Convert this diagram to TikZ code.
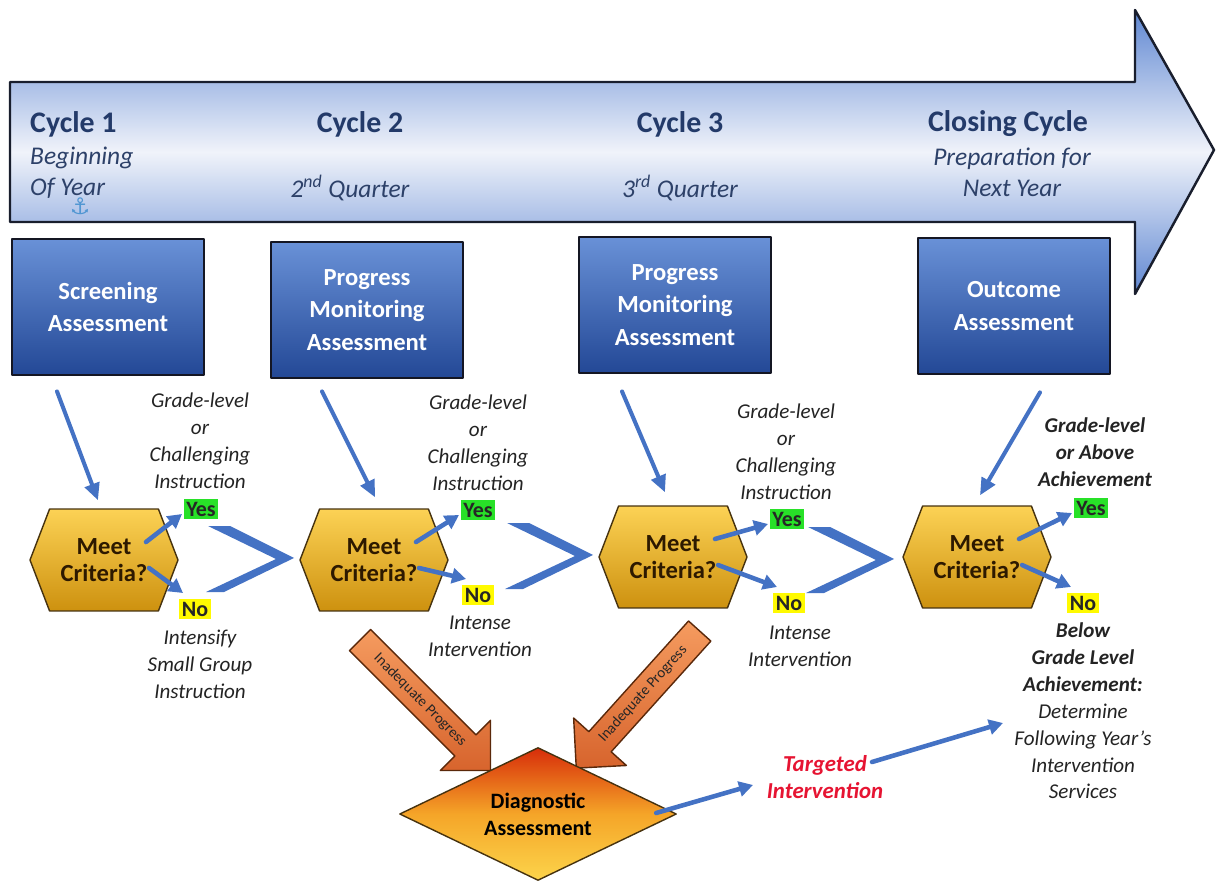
\documentclass[tikz,border=0pt]{standalone}
\usepackage{fontspec}
\setmainfont{Carlito}
\newfontfamily\symfont{DejaVu Sans}
\usetikzlibrary{arrows.meta,shapes.geometric,shapes.symbols,shapes.arrows}

\definecolor{flowblue}{RGB}{68,114,196}
\definecolor{bandtop}{RGB}{95,135,210}
\definecolor{bandmid}{RGB}{240,243,250}
\definecolor{bandedge}{RGB}{25,30,45}
\definecolor{cyctext}{RGB}{35,58,105}
\definecolor{whentext}{RGB}{45,65,105}
\definecolor{boxtop}{RGB}{105,145,215}
\definecolor{boxbot}{RGB}{35,72,150}
\definecolor{boxedge}{RGB}{20,22,35}
\definecolor{hextop}{RGB}{252,210,85}
\definecolor{hexbot}{RGB}{205,145,15}
\definecolor{hexedge}{RGB}{70,50,15}
\definecolor{hextext}{RGB}{45,25,0}
\definecolor{yesgreen}{RGB}{40,225,40}
\definecolor{noyellow}{RGB}{255,250,0}
\definecolor{notetext}{RGB}{35,35,35}
\definecolor{diagtop}{RGB}{215,45,10}
\definecolor{diagmid}{RGB}{245,165,40}
\definecolor{diagbot}{RGB}{252,212,75}
\definecolor{iptop}{RGB}{245,155,95}
\definecolor{ipbot}{RGB}{215,100,45}
\definecolor{ipedge}{RGB}{90,40,10}
\definecolor{targetred}{RGB}{230,20,50}
\definecolor{anchorblue}{RGB}{80,150,210}

\begin{document}
\begin{tikzpicture}[x=0.02cm, y=-0.02cm, line cap=round, line join=round]
  % ---- Styles ----
  \tikzset{
    flow/.style={-{Triangle[length=0.34cm,width=0.3cm]}, line width=2.3pt, flowblue},
    branch/.style={-{Triangle[length=0.28cm,width=0.3cm]}, line width=2.6pt, flowblue},
    cyc/.style={font=\fontsize{17}{20}\selectfont\bfseries, text=cyctext},
    period/.style={font=\fontsize{14.5}{17.6}\selectfont\itshape, text=whentext},
    assess/.style={draw=boxedge, line width=1.6pt, top color=boxtop, bottom color=boxbot,
      minimum width=3.84cm, minimum height=2.72cm, text=white, align=center,
      font=\fontsize{14}{18.7}\selectfont\bfseries},
    meet/.style={signal, signal to=west and east, signal pointer angle=138, draw=hexedge,
      line width=0.8pt, top color=hextop, bottom color=hexbot, minimum width=2.96cm,
      minimum height=2.04cm, inner sep=0pt, text=hextext, align=center,
      font=\fontsize{14}{15.5}\selectfont\bfseries},
    yesbox/.style={fill=yesgreen, inner sep=1.5pt, font=\fontsize{12.5}{14}\selectfont\bfseries, text=black!85},
    nobox/.style={fill=noyellow, inner sep=1.5pt, font=\fontsize{12.5}{14}\selectfont\bfseries, text=black!85},
    note/.style={font=\fontsize{12}{15.3}\selectfont\itshape, text=notetext, align=center},
    diag/.style={diamond, aspect=2.08, draw=hexedge, line width=0.8pt, top color=diagtop,
      bottom color=diagbot, middle color=diagmid, minimum width=5.54cm, minimum height=2.66cm,
      inner sep=0pt, align=center, font=\fontsize{12.5}{15.3}\selectfont\bfseries},
    inadequate/.style={single arrow, single arrow head extend=0.4cm, single arrow tip angle=90,
      draw=ipedge, line width=0.8pt, top color=iptop, bottom color=ipbot, minimum height=3.69cm,
      minimum width=1.42cm, inner ysep=0.15cm, inner xsep=2pt,
      font=\fontsize{8.5}{9}\selectfont, text=black!85},
  }
  \useasboundingbox (0,0) rectangle (1216,881);

  % Timeline arrow
  \draw[line width=1.4pt, draw=bandedge, top color=bandtop, bottom color=bandtop, middle color=bandmid]
    (10,82) -- (1135,82) -- (1135,10) -- (1214,150) -- (1135,294) -- (1135,222) -- (10,222) -- cycle;

  \node[cyc, anchor=west] (c1) at (24,124) {Cycle 1};
  \node[period, anchor=west, align=left] (w1) at (24,173) {Beginning\\Of Year};
  \node[text=anchorblue, font=\symfont\fontsize{13}{13}\selectfont] (anc) at (80,206) {⚓};
  \node[cyc] (c2) at (360,124) {Cycle 2};
  \node[period] (w2) at (350,188) {2\textsuperscript{nd} Quarter};
  \node[cyc] (c3) at (680,124) {Cycle 3};
  \node[period] (w3) at (680,188) {3\textsuperscript{rd} Quarter};
  \node[cyc] (c4) at (1008,124) {Closing Cycle};
  \node[period, align=center] (w4) at (1012,172) {Preparation for\\Next Year};

  % Assessments
  \node[assess] (s1) at (108,307) {Screening\\Assessment};
  \node[assess] (s2) at (367,310) {Progress\\Monitoring\\Assessment};
  \node[assess] (s3) at (675,305) {Progress\\Monitoring\\Assessment};
  \node[assess] (s4) at (1014,306) {Outcome\\Assessment};

  % Decisions
  \node[meet] (m1) at (104,560) {Meet\\Criteria?};
  \node[meet] (m2) at (374,560) {Meet\\Criteria?};
  \node[meet] (m3) at (673,557) {Meet\\Criteria?};
  \node[meet] (m4) at (977,557) {Meet\\Criteria?};

  \node[yesbox] (y1) at (201,509) {Yes};
  \node[nobox]  (n1) at (195,609) {No};
  \node[yesbox] (y2) at (478,510) {Yes};
  \node[nobox]  (n2) at (478,595) {No};
  \node[yesbox] (y3) at (787,519) {Yes};
  \node[nobox]  (n3) at (789,603) {No};
  \node[yesbox] (y4) at (1091,508) {Yes};
  \node[nobox]  (n4) at (1083,603) {No};

  \draw[flow] ([shift={(-51,15)}]s1.south) -- ([shift={(-6,-8)}]m1.north);
  \draw[flow] ([shift={(-45,12)}]s2.south) -- ([shift={(1,-11)}]m2.north);
  \draw[flow] ([shift={(-53,17)}]s3.south) -- ([shift={(-8,-13)}]m3.north);
  \draw[flow] ([shift={(26,17)}]s4.south) -- ([shift={(3,-10)}]m4.north);

  \foreach \i in {1,...,4} {
    \draw[branch] ([shift={(42,-18)}]m\i.center) -- ([shift={(-19,5)}]y\i.center);
    \draw[branch] ([shift={(45,8)}]m\i.center) -- ([shift={(-12,-16)}]n\i.center);
  }

  % Chevrons to next cycle
  \foreach \cx/\cy in {208/526, 507/523, 808/527} {
    \fill[flowblue] (\cx,\cy) -- ++(22,0) -- ++(64,32) -- ++(-70,34) -- ++(-18,0) -- ++(70,-33) -- cycle;
  }

  % Outcomes
  \node[note] (g1) at (200,441) {Grade-level\\or\\Challenging\\Instruction};
  \node[note] (g2) at (478,443) {Grade-level\\or\\Challenging\\Instruction};
  \node[note] (g3) at (786,452) {Grade-level\\or\\Challenging\\Instruction};
  \node[note, font=\fontsize{12}{15.3}\selectfont\bfseries\itshape] (g4) at (1095,452) {Grade-level\\or Above\\Achievement};
  \node[note] (i1) at (200,664) {Intensify\\Small Group\\Instruction};
  \node[note] (i2) at (480,636) {Intense\\Intervention};
  \node[note] (i3) at (800,646) {Intense\\Intervention};
  \node[note] (i4) at (1083,711) {\textbf{Below}\\\textbf{Grade Level}\\\textbf{Achievement:}\\Determine\\Following Year’s\\Intervention\\Services};

  % Diagnostic branch
  \node[inadequate, rotate=-45] (ip1) at (420,700) {Inadequate Progress};
  \node[inadequate, rotate=48, shape border rotate=180] (ip2) at (643,694) {Inadequate Progress};
  \node[diag] (d) at (538,814) {Diagnostic\\Assessment};
  \node[note, font=\fontsize{13}{15.3}\selectfont\bfseries\itshape, text=targetred] (t) at (825,777) {Targeted\\Intervention};

  \draw[branch] ([shift={(-21,-1)}]d.east) -- ([shift={(-72,8)}]t.center);
  \draw[branch] ([shift={(47,-15)}]t.center) -- ([shift={(-80,12)}]i4.center);

\end{tikzpicture}
\end{document}
